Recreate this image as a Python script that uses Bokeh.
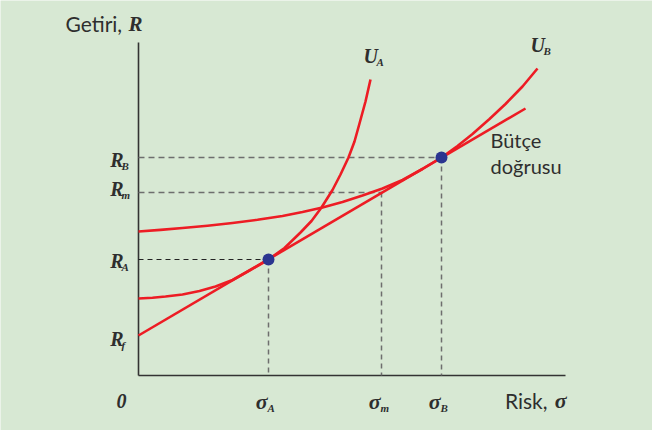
from bokeh.plotting import figure
from bokeh.models import Range1d
from bokeh.core.properties import value
from bokeh.embed import file_html
from bokeh.resources import INLINE

# ---------------- data ----------------
sigma_names = ["σ", "σ", "σ"]
sigma_subs = ["A", "m", "B"]
sigma_vals = [13.0, 24.3, 30.3]          # σ_A, σ_m, σ_B

r_names = ["R", "R", "R", "R"]
r_subs = ["f", "A", "m", "B"]
r_vals = [4.0, 11.6, 18.3, 21.8]         # R_f, R_A, R_m, R_B

budget_x = [0.0, 38.7]
budget_y = [4.0, 26.7]

ua_x = [0.0, 1.4, 2.7, 4.4, 6.1, 7.7, 9.4, 11.1, 13.0, 14.6, 16.2, 17.3,
        18.3, 19.4, 20.2, 21.0, 21.6, 22.1, 22.7, 23.2]
ua_y = [7.7, 7.78, 7.9, 8.1, 8.45, 8.9, 9.55, 10.5, 11.6, 12.75, 14.3, 15.45,
        16.8, 18.55, 20.1, 21.8, 23.4, 25.2, 27.4, 29.6]

ub_x = [0.0, 2.2, 4.4, 6.9, 9.4, 11.9, 14.4, 16.4, 18.4, 20.4, 22.4, 24.4,
        26.4, 28.4, 30.3, 31.9, 33.4, 35.1, 36.7, 38.4, 39.9]
ub_y = [14.4, 14.56, 14.75, 14.98, 15.25, 15.57, 15.95, 16.35, 16.8, 17.35, 18.0, 18.7,
        19.55, 20.65, 21.8, 22.95, 24.15, 25.65, 27.15, 28.9, 30.7]

curve_names = ["U", "U"]
curve_subs = ["A", "B"]
budget_label = ["Bütçe", "doğrusu"]
x_title = "Risk,"
y_title = "Getiri,"
axis_sym_x = "σ"
axis_sym_y = "R"
zero_label = "0"

# ---------------- layout helpers ----------------
SCALE = 10.0          # pixels per data unit
OX, OY = 146, 383     # page pixel of the origin
TDY = -7              # correction for text baseline placement


def dx(px):
    return (px - OX) / SCALE


def dy(py):
    return (OY - py) / SCALE


BG = "#d7e8d3"
RED = "#ed1c24"
BLUE = "#2b3590"
INK = "#2e2e2e"
GREY = "#6e6e6e"
SERIF = value("Liberation Serif")
SANS = value("Lato")

p = figure(width=652, height=430,
           x_range=Range1d(dx(8), dx(660)), y_range=Range1d(dy(438), dy(8)),
           x_axis_type=None, y_axis_type=None,
           output_backend="svg", toolbar_location=None,
           min_border=0, background_fill_color=BG, border_fill_color=BG,
           outline_line_color=None)
p.grid.grid_line_color = None

# axes
p.segment(x0=[0, 0], y0=[0, 0], x1=[dx(573), 0], y1=[0, dy(50)],
          line_color="#333333", line_width=1.6)

# dashed guides
sA, sm, sB = sigma_vals
Rf, RA, Rm, RB = r_vals
p.segment(x0=[0], y0=[RA], x1=[sA], y1=[RA], line_color="#222222",
          line_width=1.2, line_dash="5 4")
p.segment(x0=[0, 0], y0=[Rm, RB], x1=[sm, sB], y1=[Rm, RB], line_color=GREY,
          line_width=1.5, line_dash="6 4")
p.segment(x0=sigma_vals, y0=[RA, Rm, RB], x1=sigma_vals, y1=[0, 0, 0],
          line_color=GREY, line_width=1.5, line_dash="5 4")

# curves
p.line(budget_x, budget_y, line_color=RED, line_width=2.6)
p.line(ua_x, ua_y, line_color=RED, line_width=2.6, line_join="round")
p.line(ub_x, ub_y, line_color=RED, line_width=2.6, line_join="round")

# tangency points
p.scatter(x=[sA, sB], y=[RA, RB], size=12, fill_color=BLUE, line_color=None)

# y labels
r_yoff = [10, 8, 3, 9]
for name, sub, val, off in zip(r_names, r_subs, r_vals, r_yoff):
    p.text(x=[0], y=[val], text=[name], x_offset=-15, y_offset=off + TDY,
           text_font=SERIF, text_font_style="bold italic", text_font_size="20px",
           text_align="right", text_baseline="alphabetic", text_color=INK)
    p.text(x=[0], y=[val], text=[sub], x_offset=-17, y_offset=off + 6 + TDY,
           text_font=SERIF, text_font_style="bold italic", text_font_size="11px",
           text_align="left", text_baseline="alphabetic", text_color=INK)

# x labels
for name, sub, val in zip(sigma_names, sigma_subs, sigma_vals):
    p.text(x=[val], y=[0], text=[name], x_offset=-1, y_offset=33 + TDY,
           text_font=SERIF, text_font_style="bold italic", text_font_size="22px",
           text_align="right", text_baseline="alphabetic", text_color=INK)
    p.text(x=[val], y=[0], text=[sub], x_offset=-1, y_offset=39 + TDY,
           text_font=SERIF, text_font_style="bold italic", text_font_size="11px",
           text_align="left", text_baseline="alphabetic", text_color=INK)

p.text(x=[0], y=[0], text=[zero_label], x_offset=-12, y_offset=32 + TDY,
       text_font=SERIF, text_font_style="bold italic", text_font_size="20px",
       text_align="right", text_baseline="alphabetic", text_color=INK)

# axis titles
p.text(x=[dx(555)], y=[0], text=[x_title], y_offset=32 + TDY,
       text_font=SANS, text_font_size="21px", text_align="right",
       text_baseline="alphabetic", text_color=INK)
p.text(x=[dx(574)], y=[0], text=[axis_sym_x], y_offset=32 + TDY,
       text_font=SERIF, text_font_style="bold italic", text_font_size="22px",
       text_align="right", text_baseline="alphabetic", text_color=INK)
p.text(x=[dx(73)], y=[dy(38)], text=[y_title], y_offset=TDY,
       text_font=SANS, text_font_size="21px", text_align="left",
       text_baseline="alphabetic", text_color=INK)
p.text(x=[dx(136)], y=[dy(38)], text=[axis_sym_y], y_offset=TDY,
       text_font=SERIF, text_font_style="bold italic", text_font_size="21px",
       text_align="left", text_baseline="alphabetic", text_color=INK)

# curve labels
for name, sub, cx, cy in zip(curve_names, curve_subs, [ua_x[-1], ub_x[-1]], [ua_y[-1], ub_y[-1]]):
    p.text(x=[cx], y=[cy], text=[name], x_offset=-7, y_offset=-17 + TDY,
           text_font=SERIF, text_font_style="bold italic", text_font_size="20px",
           text_align="left", text_baseline="alphabetic", text_color=INK)
    p.text(x=[cx], y=[cy], text=[sub], x_offset=6, y_offset=-11 + TDY,
           text_font=SERIF, text_font_style="bold italic", text_font_size="11px",
           text_align="left", text_baseline="alphabetic", text_color=INK)

# budget line label
p.text(x=[dx(498)] * 2, y=[dy(154), dy(180)], text=budget_label, y_offset=TDY,
       text_font=SANS, text_font_size="20px", text_align="left",
       text_baseline="alphabetic", text_color=INK)

open("out.html", "w").write(file_html(p, INLINE))
